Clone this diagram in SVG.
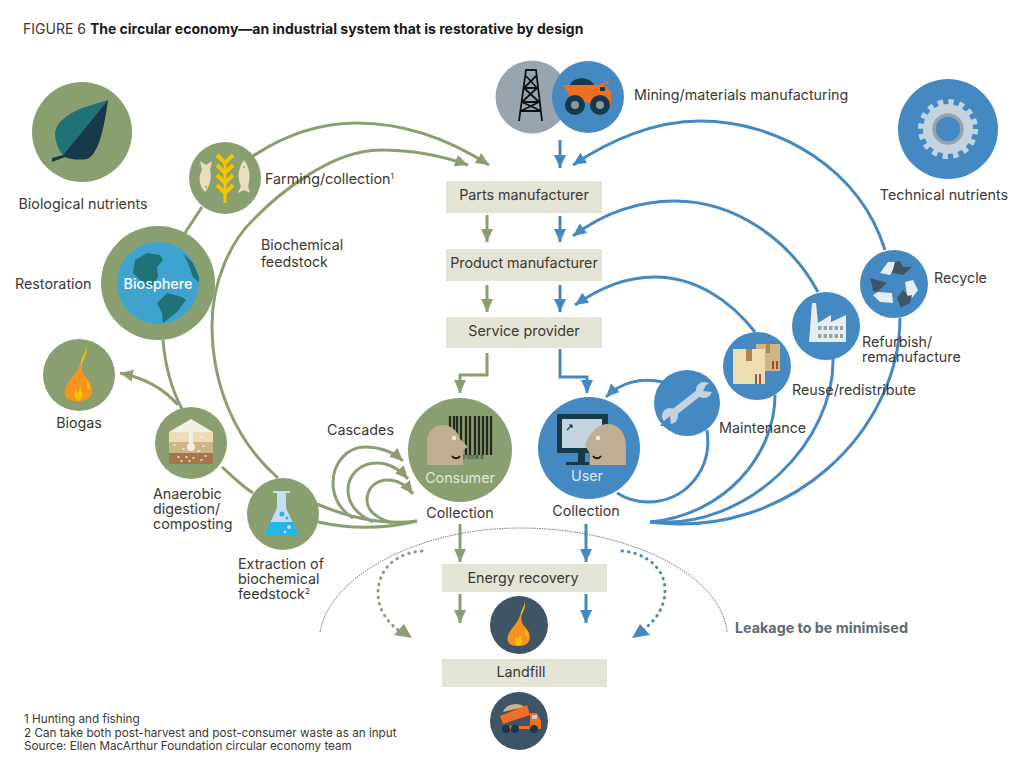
<svg xmlns="http://www.w3.org/2000/svg" width="1024" height="771" viewBox="0 0 1024 771">
<defs>
<marker id="ag" markerUnits="userSpaceOnUse" markerWidth="16" markerHeight="16" refX="13" refY="8" orient="auto"><path d="M0 2L13 8L0 14Z" fill="#8a9f70"/></marker>
<marker id="ab" markerUnits="userSpaceOnUse" markerWidth="16" markerHeight="16" refX="13" refY="8" orient="auto"><path d="M0 2L13 8L0 14Z" fill="#4489c2"/></marker>
<g id="flame"><path d="M86 347C88 356 82 360 80 364C78 372 73 375 68 383C63 391 64 398 70 400C75 402 84 402 89 398C94 394 93 386 89 381C85 376 82 374 82 368C81 360 87 356 86 347Z" fill="#f7931e"/><path d="M86 347C88 354 83 360 81 365C80 358 86 354 86 347ZM78 401C73 398 74 393 76 390L78 393L80 387C83 392 85 398 78 401ZM89 390C91 386 89 383 87 381C86 385 86 388 89 390Z" fill="#f5c400"/></g>
</defs>
<style>
text{font-family:"Inter","Liberation Sans",sans-serif;font-size:14.3px;fill:#3c3833}
.g{fill:none;stroke:#8a9f70;stroke-width:3}
.b{fill:none;stroke:#4489c2;stroke-width:3}
.dot{stroke-dasharray:0.5 6;stroke-linecap:round}
.ng{fill:#8a9f70}.nb{fill:#4489c2}.nd{fill:#3f5566}
.box{fill:#e3e3d6}
.sm{font-size:11.7px}
.c{text-anchor:middle}
.head{fill:#bfae92}
.tan{fill:#eadcbd}
.lt{fill:#c4d4df}
.dk{fill:#17394a}
.or{fill:#f26f21}
.pale{fill:#f2f0e6}
</style>
<rect width="1024" height="771" fill="#fff"/>
<text x="23" y="34" style="font-size:14px">FIGURE 6 <tspan font-weight="700" fill="#1a1a1a">The circular economy—an industrial system that is restorative by design</tspan></text>

<g id="connectors">
<path class="g" d="M253 156C285 135 320 123 357 123C405 123 450 140 489 165" marker-end="url(#ag)"/>
<path class="g" d="M278 478C235 440 212 385 212 325C212 280 232 240 253 220C275 197 330 150 380 150C410 150 440 155 468 165" marker-end="url(#ag)"/>
<path class="g" d="M202 207L185 233"/>
<path class="g" d="M163 340C165 365 172 390 182 409"/>
<path class="g" d="M222 467C232 476 242 486 253 493"/>
<path class="g" d="M178 405C165 390 145 378 120 373" marker-end="url(#ag)"/>
<path class="g" d="M317 504C345 516 380 526 417 521"/>
<path class="g" d="M318 522C350 529 385 529 417 521"/>
<path class="g" d="M353 518C340 510 333 497 333 483C333 463 347 447 365 447C381 447 393 452 403 461" marker-end="url(#ag)"/>
<path class="g" d="M373 522C358 515 348 505 348 490C348 475 360 463 377 463C389 463 399 469 408 479" marker-end="url(#ag)"/>
<path class="g" d="M392 523C376 518 367 510 367 500C367 488 376 480 388 480C398 480 406 485 413 494" marker-end="url(#ag)"/>
<path class="g" d="M487 215V242" marker-end="url(#ag)"/>
<path class="g" d="M487 285V312" marker-end="url(#ag)"/>
<path class="g" d="M487 353V375H460V393" marker-end="url(#ag)"/>
<path class="g" d="M460 524V562" marker-end="url(#ag)"/>
<path class="g" d="M460 594V623" marker-end="url(#ag)"/>
<path class="g dot" d="M422 551C395 553 378 570 378 593C378 615 395 630 408 636"/>
<path d="M412 638L394 635L404 624Z" class="ng"/>
<path class="b" d="M560 140V168" marker-end="url(#ab)"/>
<path class="b" d="M560 216V242" marker-end="url(#ab)"/>
<path class="b" d="M560 285V312" marker-end="url(#ab)"/>
<path class="b" d="M560 349V377H587V393" marker-end="url(#ab)"/>
<path class="b" d="M586 524V562" marker-end="url(#ab)"/>
<path class="b" d="M586 594V623" marker-end="url(#ab)"/>
<path class="b dot" d="M622 551C648 553 665 570 665 590C665 612 650 626 636 635"/>
<path d="M632 638L650 635L640 624Z" class="nb"/>
<path class="b" d="M885 250C860 170 780 121 700 121C655 121 610 140 573 165" marker-end="url(#ab)"/>
<path class="b" d="M818 292C790 240 735 201 675 201C640 201 605 212 573 236" marker-end="url(#ab)"/>
<path class="b" d="M755 332C730 300 695 277 655 277C625 277 600 288 575 305" marker-end="url(#ab)"/>
<path class="b" d="M663 382C640 377 620 383 606 397" marker-end="url(#ab)"/>
<path class="b" d="M707 430C713 470 685 502 648 502C635 502 625 498 617 493"/>
<path class="b" d="M775 395C775 455 725 515 650 522"/>
<path class="b" d="M833 358C835 440 750 530 650 522"/>
<path class="b" d="M900 318C900 430 790 540 650 522"/>
<path d="M320 632C330 575 420 528 520 528C620 528 720 570 727 632" fill="none" stroke="#777" stroke-width="1" stroke-dasharray="1.5 1"/>
</g>

<g id="biological-nutrients"><circle class="ng" cx="82" cy="132" r="50"/><path d="M108 100L82 108C70 113 55 122 55 134C55 142 59 151 63 155Z" fill="#1f7378"/><path d="M108 100L63 155L52 158V162L65 157C72 160 80 160 87 159C98 155 104 130 108 100Z" fill="#17394a"/><text x="83" y="209" class="c">Biological nutrients</text></g>
<g id="farming"><circle class="ng" cx="225" cy="178" r="36"/><path d="M200 161L206 165L212 161L210 170C212 178 210 186 205 192C199 186 198 176 202 170Z" class="tan"/><path d="M244 160C250 168 251 178 248 186L250 193L244 190L238 193L241 186C237 178 238 168 244 160Z" class="tan"/><circle cx="206" cy="187" r="0.800" fill="#6f6a55"/><circle cx="244" cy="167" r="0.800" fill="#6f6a55"/><path d="M225 160V203" stroke="#f5c400" stroke-width="3"/><path d="M217 155L225 163L233 155M217 165L225 173L233 165M217 175L225 183L233 175M217 185L225 193L233 185" stroke="#f5c400" stroke-width="4" fill="none"/><text x="265" y="184">Farming/collection<tspan dy="-5" font-size="8">1</tspan></text></g>
<g id="biosphere"><circle class="ng" cx="158" cy="283" r="57"/><circle cx="158" cy="283" r="41" fill="#3fa3cf"/><path d="M135 260L147 253L160 255L163 260L157 267L158 277L150 290L143 283L133 273Z" fill="#1f7378"/><path d="M157 303L167 293L182 297L186 300L177 312L163 323L162 313Z" fill="#1f7378"/><path d="M183 253L193 263L199 277V282L193 277L188 263Z" fill="#1f7378"/><text x="158" y="289" class="c" style="fill:#fff;font-weight:500">Biosphere</text><text x="15" y="289">Restoration</text></g>
<g id="biogas"><circle class="ng" cx="79" cy="375" r="36"/><use href="#flame"/><text x="79" y="428" class="c">Biogas</text></g>
<g id="anaerobic"><circle class="ng" cx="191" cy="443" r="36"/><path d="M169 432L191 419L213 432Z" class="pale"/><rect x="169" y="432" width="44" height="10" fill="#ecdcb6"/><rect x="169" y="442" width="44" height="11" fill="#cfb583"/><rect x="169" y="453" width="44" height="11" fill="#a6754a"/><path d="M189 430H193V444H189Z" class="pale"/><circle cx="191" cy="447" r="4" class="pale"/><path d="M178 457h1M186 457h1M193 458h1M205 456h1M181 461h1M189 461h1M201 460h1M181 437h1M201 437h1M174 445h1M183 449h1M203 446h1M198 451h1" stroke="#f2f0e6" stroke-width="1.500" stroke-linecap="round"/><text x="153" y="499">Anaerobic</text><text x="153" y="514">digestion/</text><text x="153" y="529">composting</text></g>
<g id="extraction"><circle class="ng" cx="283" cy="514" r="36"/><path d="M273 491H290V493H286V508L299 536H264L277 508V493H273Z" fill="#c5def2"/><path d="M270 522H293L299 536H264Z" fill="#24b5ea"/><circle cx="282" cy="514" r="2.500" fill="#24b5ea"/><circle cx="287" cy="518" r="1.500" fill="#24b5ea"/><circle cx="289" cy="527" r="2" fill="#c5def2"/><circle cx="285" cy="532" r="1.500" fill="#c5def2"/><text x="238" y="569">Extraction of</text><text x="238" y="584">biochemical</text><text x="238" y="599">feedstock<tspan dy="-5" font-size="8">2</tspan></text></g>
<g id="mining"><circle cx="532" cy="97" r="36.500" fill="#98a4ae"/><path d="M519 121L526 70H536L542 121M526 70H536M524 88H537M522 102H539M521 111H541M524 88L539 102M537 88L522 102M526 76L537 88M536 76L524 88M521 111L539 102M541 111L522 102" stroke="#111" stroke-width="1.800" fill="none"/><circle class="nb" cx="588" cy="97" r="36"/><path d="M570 85C573 76 590 76 594 85Z" class="dk"/><path d="M563 85H598L609 81V83L603 84L611 92V105H595L570 97Z" class="or"/><rect x="600" y="87" width="5" height="4" class="dk"/><circle cx="575" cy="105" r="10" class="dk"/><circle cx="600" cy="105" r="10" class="dk"/><circle cx="575" cy="105" r="4" fill="#8a9aa5"/><circle cx="600" cy="105" r="4" fill="#8a9aa5"/><text x="634" y="100">Mining/materials manufacturing</text></g>
<g id="technical-nutrients"><circle class="nb" cx="948" cy="129" r="50"/><circle cx="948" cy="129" r="27" fill="none" stroke="#c4d4df" stroke-width="6" stroke-dasharray="5.300 5.300"/><circle cx="948" cy="129" r="25" class="lt"/><circle cx="948" cy="129" r="14" class="nb" stroke="#95a2ad" stroke-width="3.500"/><text x="944" y="200" class="c">Technical nutrients</text></g>
<g id="recycle"><circle class="nb" cx="894" cy="284" r="34"/><path d="M880 273L888 262H898L890 275ZM905 282L913 280L918 290L912 298L907 295ZM873 295L878 292L892 293L893 303L880 302Z" fill="#e6eef2"/><path d="M895 262L900 261L903 267L912 267L903 275L892 273ZM870 278L887 283L877 292L873 291L872 285ZM897 298L903 290L908 296L912 295L910 303L902 307L901 308Z" class="nd"/><text x="934" y="283">Recycle</text></g>
<g id="refurbish"><circle class="nb" cx="826" cy="326" r="34"/><path d="M812 303H816L818 323L831 315V322L846 315V342H809Z" fill="#e6eef2"/><path d="M818 328H843M818 336H843" stroke="#95a2ad" stroke-width="4" stroke-dasharray="3.500 2"/><text x="862" y="347">Refurbish/</text><text x="862" y="362">remanufacture</text></g>
<g id="reuse"><circle class="nb" cx="757" cy="366" r="34"/><rect x="756" y="344" width="24" height="27" fill="#cfb583"/><rect x="733" y="349" width="32" height="35" fill="#eedcb3"/><path d="M746 349H752V361H746ZM766 344H770V353H766Z" fill="#b0844f"/><path d="M756 384V374M760 384V374M773 369V361M777 369V361" stroke="#8f2a1a" stroke-width="1.500"/><text x="792" y="395">Reuse/redistribute</text></g>
<g id="maintenance"><circle class="nb" cx="687" cy="403" r="33"/><path d="M672 414L700 392" stroke="#c4d4df" stroke-width="7"/><circle cx="670" cy="416" r="8" class="lt"/><circle cx="704" cy="390" r="8" class="lt"/><path d="M664 421L670 416L671 426L660 426ZM706 385L703 391L712 392L713 382Z" class="nb"/><text x="719" y="433">Maintenance</text></g>
<g id="consumer"><circle class="ng" cx="460" cy="450" r="52"/><path d="M450 416V455M454 416V455M457 416V455M461 416V455M466 416V455M470 416V455M475 416V455M479 416V455M483 416V455M487 416V455M491 416V455" stroke="#26281f" stroke-width="2.300"/><text x="471" y="459" class="c" style="font-size:5px;fill:#26281f">03 0006 9</text><path d="M427 465V442C427 432 434 425 443 425C452 425 458 432 460 439L468 447L463 450V465Z" class="head"/><circle cx="454" cy="438" r="2" fill="#fff"/><path d="M452 456C454 459 458 459 460 456" stroke="#111" stroke-width="1.800" fill="none"/><text x="460" y="483" class="c" style="fill:#e3ead9">Consumer</text><text x="460" y="518" class="c">Collection</text></g>
<g id="user"><circle class="nb" cx="589" cy="448" r="51"/><rect x="557" y="414" width="51" height="39" class="dk"/><rect x="562" y="419" width="40" height="29" class="lt"/><path d="M578 453H585V462H589V465H566V462H578Z" class="dk"/><path d="M567 430L572 425M572 425V428M572 425H569" stroke="#17394a" stroke-width="1.200" fill="none"/><path d="M585 445C590 432 598 424 608 424C619 424 626 434 626 446V465H590V454Z" class="head"/><circle cx="598" cy="438" r="2" fill="#fff"/><path d="M593 456C595 459 599 459 601 456" stroke="#111" fill="none" stroke-width="1.800"/><text x="587" y="481" class="c" style="fill:#dce9f2">User</text><text x="586" y="516" class="c">Collection</text></g>
<g id="parts-manufacturer"><rect class="box" x="446" y="181" width="156" height="32"/><text x="524" y="200" class="c">Parts manufacturer</text></g>
<g id="product-manufacturer"><rect class="box" x="446" y="249" width="156" height="32"/><text x="524" y="268" class="c">Product manufacturer</text></g>
<g id="service-provider"><rect class="box" x="446" y="317" width="156" height="31"/><text x="524" y="336" class="c">Service provider</text></g>
<g id="energy-recovery"><rect class="box" x="442" y="564" width="165" height="28"/><text x="523" y="583" class="c">Energy recovery</text></g>
<g id="energy-icon"><circle class="nd" cx="519" cy="625" r="29"/><use href="#flame" transform="translate(455 321) scale(.81)"/></g>
<g id="landfill"><rect class="box" x="442" y="659" width="165" height="28"/><text x="521" y="677" class="c">Landfill</text></g>
<g id="landfill-icon"><circle class="nd" cx="519" cy="721" r="29"/><path d="M503 712C506 703 520 702 524 707Z" fill="#cdb48a"/><path d="M500 716L527 705L530 715L503 724Z" class="or"/><path d="M530 713H537L541 721V729H503V726H530Z" class="or"/><rect x="532" y="715" width="5" height="4" class="lt"/><circle cx="506" cy="729" r="4" class="dk"/><circle cx="515" cy="729" r="4" class="dk"/><circle cx="534" cy="729" r="4" class="dk"/></g>

<g id="labels">
<text x="261" y="250">Biochemical</text><text x="261" y="267">feedstock</text>
<text x="327" y="435">Cascades</text>
<text x="735" y="633" style="fill:#5d6a73;font-weight:700">Leakage to be minimised</text>
<text x="24" y="723" class="sm">1 Hunting and fishing</text>
<text x="24" y="737" class="sm">2 Can take both post-harvest and post-consumer waste as an input</text>
<text x="24" y="750" class="sm">Source: Ellen MacArthur Foundation circular economy team</text>
</g>
</svg>
